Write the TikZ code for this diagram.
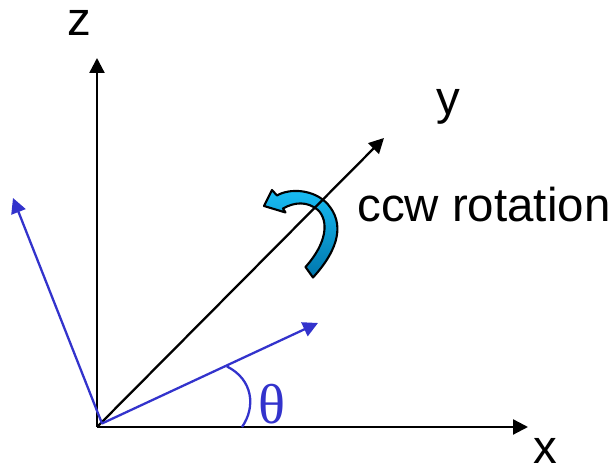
\documentclass[tikz,border=0pt]{standalone}
\usepackage{fontspec}
\setmainfont{Liberation Sans}
\newfontfamily\thetafont{Liberation Serif}
\usepackage{xcolor}
\definecolor{vecblue}{RGB}{51,51,204}
\definecolor{rotlight}{RGB}{25,190,245}
\definecolor{rotdark}{RGB}{0,118,172}
\usepackage{tikz}
\usetikzlibrary{arrows.meta, positioning}

\begin{document}
\begin{tikzpicture}[
        axis/.style={-{Triangle[length=0.3cm, width=0.3cm]}, line width=1.3pt, color=black},
        vec/.style={-{Triangle[length=0.3cm, width=0.3cm]}, line width=1.3pt, color=vecblue},
        lbl/.style={anchor=base, inner sep=0pt, font=\fontsize{27}{32}\selectfont}
    ]
        \useasboundingbox (-1.94, -0.88) rectangle (10.32, 8.54);

        \coordinate (origin) at (0, 0);
        \coordinate (xend) at (8.62, 0);
        \coordinate (zend) at (0, 7.38);
        \coordinate (yend) at (5.74, 5.78);
        \coordinate (vstart) at (0.1, 0.07);
        \coordinate (uend) at (4.42, 2.08);
        \coordinate (wend) at (-1.68, 4.58);

        % ccw rotation arrow
        \shade[top color=rotlight, bottom color=rotdark, draw=black, line width=1.2pt, line join=round]
            (3.34, 4.42) -- (3.5, 4.74) -- (3.6, 4.63)
            .. controls (3.85, 4.78) and (4.35, 4.76) .. (4.62, 4.45)
            .. controls (4.94, 4.08) and (4.86, 3.58) .. (4.32, 2.99)
            -- (4.17, 3.2)
            .. controls (4.6, 3.68) and (4.64, 4.12) .. (4.42, 4.34)
            .. controls (4.2, 4.52) and (3.95, 4.5) .. (3.72, 4.37)
            -- (3.77, 4.29) -- cycle;

        \draw[axis] (origin) -- (xend);
        \draw[axis] (origin) -- (zend);
        \draw[axis] (origin) -- (yend);

        \draw[vec] (vstart) -- (uend);
        \draw[vec] (vstart) -- (wend);
        \draw[vecblue, line width=1.3pt] (2.6, 1.21) .. controls (3.12, 0.95) and (3.18, 0.4) .. (2.9, 0);

        \node[lbl] (zlabel) at (-0.36, 7.82) {z};
        \node[lbl] (ylabel) at (7.02, 6.24) {y};
        \node[lbl] (xlabel) at (8.96, -0.74) {x};
        \node[lbl, anchor=base west] (rotlabel) at (5.2, 4.1) {ccw rotation};
        \node[inner sep=0pt, text=vecblue, font=\fontsize{32}{38}\thetafont] (theta) at (3.49, 0.45) {θ};
    \end{tikzpicture}
\end{document}
